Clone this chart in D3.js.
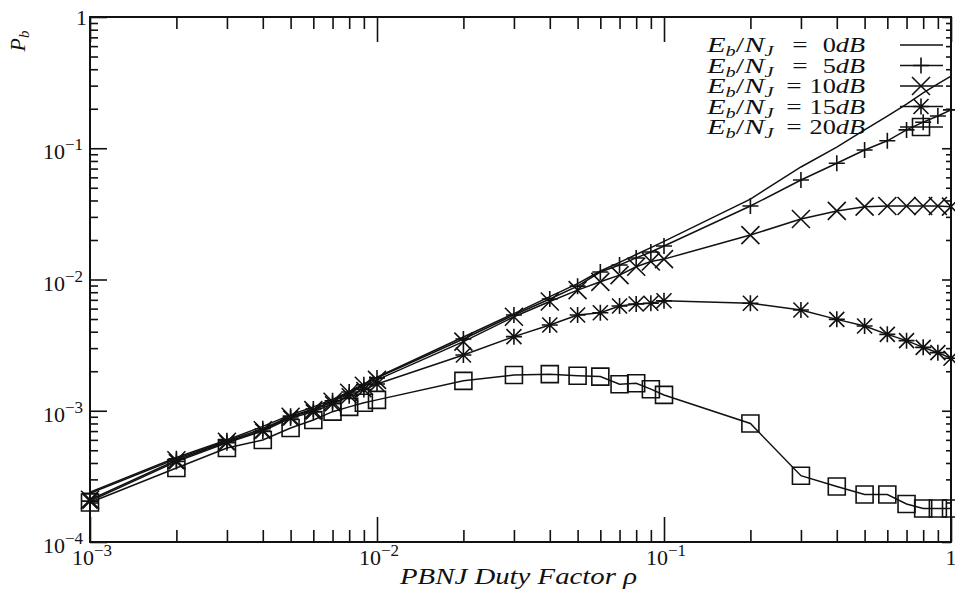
<!DOCTYPE html>
<html>
<head>
<meta charset="utf-8">
<script src="https://cdn.jsdelivr.net/npm/d3@7"></script>
<style>
  html, body { margin: 0; padding: 0; background: #fff; }
  svg { display: block; }
  text { font-family: "Liberation Serif", "Times New Roman", serif; fill: #111; }
</style>
</head>
<body>
<svg id="chart" width="955" height="589"></svg>
<script>
// Duty factor values (x) shared by every curve
const rho = [0.001, 0.002, 0.003, 0.004, 0.005, 0.006, 0.007, 0.008, 0.009,
             0.01, 0.02, 0.03, 0.04, 0.05, 0.06, 0.07, 0.08, 0.09,
             0.1, 0.2, 0.3, 0.4, 0.5, 0.6, 0.7, 0.8, 0.9, 1.0];

// Bit error probability for each jammer level
const pb0dB  = [2.4e-4, 4.4e-4, 6.0e-4, 7.6e-4, 9.3e-4, 1.07e-3, 1.22e-3, 1.40e-3, 1.60e-3,
                1.80e-3, 3.65e-3, 5.5e-3, 7.4e-3, 9.3e-3, 1.16e-2, 1.35e-2, 1.55e-2, 1.75e-2,
                1.95e-2, 4.1e-2, 7.2e-2, 1.02e-1, 1.38e-1, 1.76e-1, 2.17e-1, 2.64e-1, 3.09e-1, 3.55e-1];
const pb5dB  = [2.35e-4, 4.3e-4, 5.9e-4, 7.3e-4, 9.1e-4, 1.03e-3, 1.19e-3, 1.39e-3, 1.58e-3,
                1.78e-3, 3.52e-3, 5.37e-3, 7.1e-3, 8.9e-3, 1.14e-2, 1.29e-2, 1.46e-2, 1.62e-2,
                1.80e-2, 3.63e-2, 5.73e-2, 7.68e-2, 9.7e-2, 1.14e-1, 1.38e-1, 1.58e-1, 1.76e-1, 1.96e-1];
const pb10dB = [2.1e-4, 4.2e-4, 5.8e-4, 7.1e-4, 9.0e-4, 1.01e-3, 1.17e-3, 1.37e-3, 1.55e-3,
                1.72e-3, 3.36e-3, 5.2e-3, 6.8e-3, 8.3e-3, 9.6e-3, 1.08e-2, 1.25e-2, 1.37e-2,
                1.43e-2, 2.18e-2, 2.89e-2, 3.33e-2, 3.59e-2, 3.63e-2, 3.63e-2, 3.63e-2, 3.63e-2, 3.59e-2];
const pb15dB = [2.05e-4, 4.1e-4, 5.7e-4, 7.0e-4, 8.8e-4, 9.8e-4, 1.13e-3, 1.30e-3, 1.45e-3,
                1.60e-3, 2.66e-3, 3.67e-3, 4.5e-3, 5.37e-3, 5.58e-3, 6.28e-3, 6.51e-3, 6.59e-3,
                6.89e-3, 6.59e-3, 5.86e-3, 4.97e-3, 4.42e-3, 3.82e-3, 3.42e-3, 3.04e-3, 2.77e-3, 2.51e-3];
const pb20dB = [2.0e-4, 3.66e-4, 5.2e-4, 5.98e-4, 7.39e-4, 8.5e-4, 9.84e-4, 1.07e-3, 1.15e-3,
                1.21e-3, 1.69e-3, 1.87e-3, 1.90e-3, 1.85e-3, 1.82e-3, 1.59e-3, 1.62e-3, 1.46e-3,
                1.32e-3, 8.0e-4, 3.2e-4, 2.65e-4, 2.3e-4, 2.3e-4, 1.95e-4, 1.8e-4, 1.8e-4, 1.8e-4];

const seriesLevels = ["0", "5", "10", "15", "20"];
const seriesValues = [pb0dB, pb5dB, pb10dB, pb15dB, pb20dB];
const seriesMarkers = ["none", "plus", "cross", "star", "square"];

// Decade exponents used for the tick labels
const xTickExponents = [-3, -2, -1, 0];
const yTickExponents = [-4, -3, -2, -1, 0];

const svg = d3.select("#chart");
const plot = { left: 90, right: 951, top: 17, bottom: 542 };

const x = d3.scaleLog().domain([1e-3, 1]).range([plot.left, plot.right]);
const y = d3.scaleLog().domain([1e-4, 1]).range([plot.bottom, plot.top]);

// major (decade) and minor (2..9 x decade) tick positions
function decadeTicks(lo, hi) {
  const major = [], minor = [];
  for (let e = lo; e <= hi; e++) {
    major.push(Math.pow(10, e));
    if (e < hi) for (let k = 2; k <= 9; k++) minor.push(k * Math.pow(10, e));
  }
  return { major, minor };
}
const xt = decadeTicks(-3, 0);
const yt = decadeTicks(-4, 0);

function tickAxis(axisFn, scale, values, size, transform) {
  const g = svg.append("g")
    .attr("transform", transform)
    .call(axisFn(scale).tickValues(values).tickSize(size).tickSizeOuter(0).tickFormat(""));
  g.select(".domain").remove();
  g.selectAll(".tick line").attr("stroke", "#111").attr("stroke-width", 1.6);
  return g;
}

// bottom / top ticks point into the plot
tickAxis(d3.axisBottom, x, xt.major, -25, `translate(0,${plot.bottom})`);
tickAxis(d3.axisBottom, x, xt.minor, -12, `translate(0,${plot.bottom})`);
tickAxis(d3.axisTop, x, xt.major, -25, `translate(0,${plot.top})`);
tickAxis(d3.axisTop, x, xt.minor, -12, `translate(0,${plot.top})`);
// left / right ticks
tickAxis(d3.axisLeft, y, yt.major, -17, `translate(${plot.left},0)`);
tickAxis(d3.axisLeft, y, yt.minor, -8, `translate(${plot.left},0)`);
tickAxis(d3.axisRight, y, yt.major, -9, `translate(${plot.right},0)`);
tickAxis(d3.axisRight, y, yt.minor, -5, `translate(${plot.right},0)`);

// frame
svg.append("rect")
  .attr("x", plot.left).attr("y", plot.top)
  .attr("width", plot.right - plot.left).attr("height", plot.bottom - plot.top)
  .attr("fill", "none").attr("stroke", "#111").attr("stroke-width", 2);

// power-of-ten label: "10" with a raised exponent, or "1"
function powerLabel(sel, e) {
  if (e === 0) { sel.append("tspan").text("1"); return; }
  sel.append("tspan").text("10");
  sel.append("tspan").attr("dy", -9).attr("font-size", 17).text("\u2212" + Math.abs(e));
}

xTickExponents.forEach(e => {
  const t = svg.append("text")
    .attr("x", x(Math.pow(10, e)) + (e === 0 ? 0 : 2))
    .attr("y", plot.bottom + 23)
    .attr("font-size", 22)
    .attr("text-anchor", "middle");
  powerLabel(t, e);
});
yTickExponents.forEach(e => {
  const t = svg.append("text")
    .attr("x", e === 0 ? plot.left - 3 : plot.left - 7)
    .attr("y", y(Math.pow(10, e)) + (e === 0 ? 8 : 11))
    .attr("font-size", 22)
    .attr("text-anchor", "end");
  powerLabel(t, e);
});

// axis titles
svg.append("text")
  .attr("x", 400).attr("y", 584)
  .attr("font-size", 24).attr("font-style", "italic")
  .attr("textLength", 237).attr("lengthAdjust", "spacingAndGlyphs")
  .text("PBNJ Duty Factor \u03c1");

const yTitle = svg.append("text")
  .attr("transform", "translate(25,41) rotate(-90)")
  .attr("font-size", 22).attr("font-style", "italic")
  .attr("text-anchor", "middle");
yTitle.append("tspan").text("P");
yTitle.append("tspan").attr("font-size", 15).attr("dy", 4).text("b");

// marker shapes
function markerPath(kind, cx, cy) {
  const p = d3.path();
  if (kind === "plus" || kind === "star") {
    p.moveTo(cx - 8, cy); p.lineTo(cx + 8, cy);
    p.moveTo(cx, cy - 8); p.lineTo(cx, cy + 8);
  }
  if (kind === "cross" || kind === "star") {
    const h = kind === "star" ? 7.5 : 9;
    p.moveTo(cx - h, cy - h); p.lineTo(cx + h, cy + h);
    p.moveTo(cx - h, cy + h); p.lineTo(cx + h, cy - h);
  }
  if (kind === "square") {
    p.rect(cx - 8.5, cy - 8.5, 17, 17);
  }
  return p.toString();
}

const line = d3.line().x(d => x(d[0])).y(d => y(d[1]));

seriesValues.forEach((vals, i) => {
  const pts = rho.map((r, j) => [r, vals[j]]);
  svg.append("path")
    .datum(pts)
    .attr("d", line)
    .attr("fill", "none").attr("stroke", "#111").attr("stroke-width", 1.5);
  if (seriesMarkers[i] !== "none") {
    svg.append("g").selectAll("path")
      .data(pts).join("path")
      .attr("d", d => markerPath(seriesMarkers[i], x(d[0]), y(d[1])))
      .attr("fill", "none").attr("stroke", "#111").attr("stroke-width", 1.6);
  }
});

// horizontally widened text (math-style lettering), anchored at (px, py)
function wideText(parent, px, py, sx, anchor) {
  return parent.append("g")
    .attr("transform", `translate(${px},${py}) scale(${sx},1)`)
    .append("text")
    .attr("font-size", 21)
    .attr("text-anchor", anchor);
}

// legend
const legend = svg.append("g");
seriesLevels.forEach((lvl, i) => {
  const cy = 45 + i * 20.5;
  const base = cy + 7;
  const row = legend.append("g");

  const name = wideText(row, 707, base, 1.45, "start");
  name.append("tspan").attr("font-style", "italic").text("E");
  name.append("tspan").attr("font-size", 14).attr("dy", 4).attr("font-style", "italic").text("b");
  name.append("tspan").attr("dy", -4).text("/");
  name.append("tspan").attr("font-style", "italic").text("N");
  name.append("tspan").attr("font-size", 14).attr("dy", 4).attr("font-style", "italic").text("J");

  wideText(row, lvl.length === 1 ? 800 : 794, base, 1.3, "middle").text("=");

  const val = wideText(row, 865, base, 1.25, "end");
  val.append("tspan").text(lvl);
  val.append("tspan").attr("font-style", "italic").text("dB");

  row.append("line").attr("x1", 900).attr("x2", 943).attr("y1", cy).attr("y2", cy)
    .attr("stroke", "#111").attr("stroke-width", 1.5);
  if (seriesMarkers[i] !== "none") {
    row.append("path").attr("d", markerPath(seriesMarkers[i], 921, cy))
      .attr("fill", "none").attr("stroke", "#111").attr("stroke-width", 1.6);
  }
});
</script>
</body>
</html>
